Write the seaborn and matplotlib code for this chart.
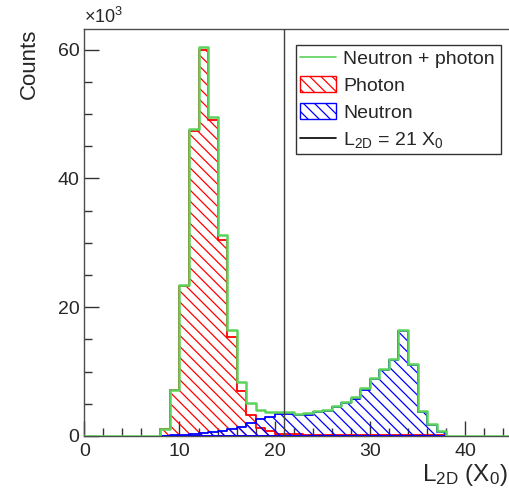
import numpy as np
import pandas as pd
import matplotlib
matplotlib.use("Agg")
import matplotlib.pyplot as plt
from matplotlib.lines import Line2D
from matplotlib.patches import Patch
from matplotlib.ticker import MultipleLocator
import seaborn as sns

# bin edges in X0 (1 X0 wide bins, 0..45)
bin_edges = list(range(0, 46))

# counts per bin, in units of 10^3
photon_k = [0, 0, 0, 0, 0, 0, 0, 0,
            1.05, 7.1, 23.3, 47.3, 60.0, 49.0, 30.4, 15.4, 7.0, 3.2, 1.3, 0.8,
            0.35, 0.25, 0.25, 0.2, 0.2, 0.2, 0.2, 0.2, 0.2, 0.2,
            0.15, 0.15, 0.15, 0.15, 0.15, 0.1, 0.1, 0.1,
            0, 0, 0, 0, 0, 0, 0]
neutron_k = [0, 0, 0, 0, 0, 0, 0, 0,
             0.05, 0.1, 0.2, 0.3, 0.4, 0.6, 0.8, 1.1, 1.4, 2.0, 2.7, 3.0,
             3.4, 3.4, 3.2, 3.3, 3.7, 3.9, 4.45, 5.1, 5.8, 7.2,
             8.85, 10.25, 11.75, 16.25, 11.05, 3.8, 1.7, 0.6,
             0, 0, 0, 0, 0, 0, 0]
cut_x0 = 21

legend_labels = ["Neutron + photon", "Photon", "Neutron", r"L$_\mathregular{2D}$ = 21 X$_\mathregular{0}$"]

sns.set_style("ticks")
plt.rcParams["font.family"] = ["Liberation Sans", "DejaVu Sans"]
plt.rcParams["mathtext.fontset"] = "custom"
plt.rcParams["mathtext.rm"] = "Liberation Sans"
plt.rcParams["mathtext.it"] = "Liberation Sans:italic"
plt.rcParams["hatch.linewidth"] = 0.9

df = pd.DataFrame({
    "center": np.array(bin_edges[:-1]) + 0.5,
    "photon": photon_k,
    "neutron": neutron_k,
})
df["total"] = df["photon"] + df["neutron"]

fig = plt.figure(figsize=(5.09, 4.95), dpi=100)
ax = fig.add_axes([0.1656, 0.1192, 0.8417, 0.8222])

green = "#5ad35a"

for col_name, col in [("photon", "#ff0000"), ("neutron", "#0000ff")]:
    sub = df[df[col_name] > 0]
    lo = int(sub["center"].min() - 0.5)
    hi = int(sub["center"].max() + 0.5)
    sns.histplot(data=sub, x="center", weights=col_name, bins=bin_edges[lo:hi + 1],
                 element="step", fill=True, color=col, facecolor="none", edgecolor=col,
                 hatch="\\\\\\", linewidth=1.3, ax=ax, zorder=3)

# total (outline only, full range), drawn on top
sns.histplot(data=df, x="center", weights="total", bins=bin_edges, element="step",
             fill=False, color=green, linewidth=1.8, ax=ax, zorder=4)

ax.axvline(cut_x0, color="0.25", linewidth=1.0, zorder=5)

ax.set_xlim(0, 45)
ax.set_ylim(0, 63.2)
ax.xaxis.set_major_locator(MultipleLocator(10))
ax.xaxis.set_minor_locator(MultipleLocator(2))
ax.yaxis.set_major_locator(MultipleLocator(20))
ax.yaxis.set_minor_locator(MultipleLocator(5))
ax.tick_params(which="both", direction="in", top=False, right=False, labelsize=14, color="0.2")
ax.tick_params(which="major", length=11, width=1)
ax.tick_params(which="minor", length=6, width=1)
ax.tick_params(axis="x", pad=5)
for sp in ax.spines.values():
    sp.set_color("0.3")
    sp.set_linewidth(1.0)

ax.set_ylabel("Counts", fontsize=16, loc="top")
ax.yaxis.set_label_coords(-0.103, 1.0)
ax.set_xlabel(r"L$_\mathregular{2D}$ (X$_\mathregular{0}$)", fontsize=17.5, loc="right")
ax.xaxis.set_label_coords(0.989, -0.064)
ax.text(0.0, 1.005, r"$\times$10$^\mathregular{3}$", transform=ax.transAxes,
        fontsize=13, ha="left", va="bottom")

handles = [
    Line2D([], [], color=green, linewidth=1.2),
    Patch(facecolor="none", edgecolor="#ff0000", hatch="\\\\\\", linewidth=1.0),
    Patch(facecolor="none", edgecolor="#0000ff", hatch="\\\\\\", linewidth=1.0),
    Line2D([], [], color="k", linewidth=1.2),
]
leg = ax.legend(handles, legend_labels, loc="upper left",
                bbox_to_anchor=(0.494, 0.693, 0.479, 0.268), mode="expand",
                borderaxespad=0, fontsize=14, frameon=True, fancybox=False,
                framealpha=1, edgecolor="0.2", handlelength=1.86, handleheight=0.9,
                handletextpad=0.36, labelspacing=0.42, borderpad=0.22)
leg.get_frame().set_linewidth(1.0)

fig.savefig("out.png", dpi=100)
